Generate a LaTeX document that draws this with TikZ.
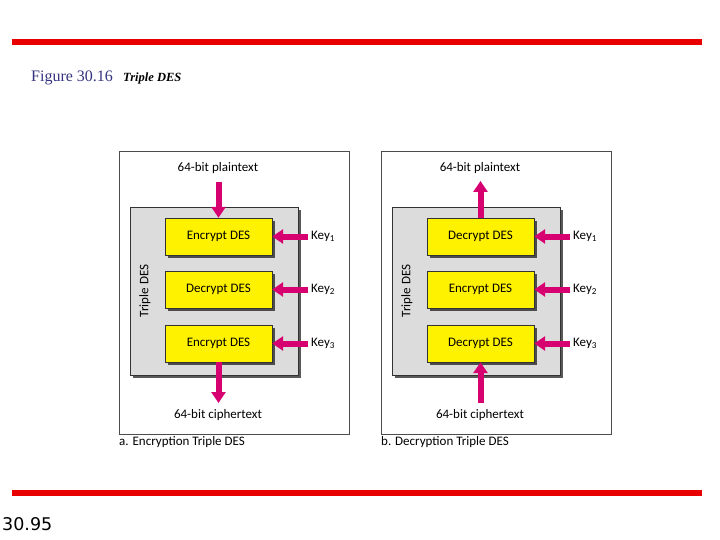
\documentclass[tikz,border=0pt]{standalone}
\usepackage{fontspec}
\setmainfont{Liberation Serif}
\newfontfamily\diafont{Carlito}
\newfontfamily\numfont{DejaVu Sans}
\usetikzlibrary{arrows.meta,shadows}
\definecolor{redline}{RGB}{232,0,0}
\definecolor{titleblue}{RGB}{51,51,128}
\definecolor{mag}{RGB}{214,0,112}
\definecolor{boxgray}{RGB}{220,220,220}
\tikzset{
  panel/.style={draw=black!70, line width=0.6pt},
  tdes/.style={draw=black!80, line width=0.5pt, fill=boxgray, minimum width=168pt, minimum height=168pt,
     drop shadow={shadow xshift=3pt, shadow yshift=-3pt, fill=black!65, opacity=1}},
  desbox/.style={draw=black!80, line width=0.4pt, fill=yellow, minimum width=107pt, minimum height=37pt,
     font=\diafont\fontsize{13}{13}\selectfont,
     drop shadow={shadow xshift=3pt, shadow yshift=-3pt, fill=black!70, opacity=1}},
  lbl/.style={font=\diafont\fontsize{13}{13}\selectfont, inner sep=0pt},
  fat/.style={draw=mag, line width=6pt, -{Triangle[width=14pt,length=11pt]}},
  redbar/.style={draw=redline, line width=6pt},
}
\begin{document}
\begin{tikzpicture}[x=1pt,y=-1pt]
\useasboundingbox (0,0) rectangle (720,540);
% header / footer
\coordinate (tl) at (12,42); \coordinate (tr) at (702,42);
\draw[redbar] (tl) -- (tr);
\coordinate (bl) at (12,493); \coordinate (br) at (702,493);
\draw[redbar] (bl) -- (br);
\node[anchor=base west, inner sep=0pt, text=titleblue, font=\fontsize{16}{17}\selectfont] (fig) at (31,82) {Figure 30.16};
\node[anchor=base west, inner sep=0pt, font=\bfseries\itshape\fontsize{12.5}{13}\selectfont] (figt) at (123,82) {Triple DES};
\node[anchor=west, inner sep=0pt, font=\numfont\fontsize{17.5}{18}\selectfont] (pg) at (2,524) {30.95};

% ---------- panel a ----------
\draw[panel] (119,151) rectangle (349,434);
\node[tdes] (ga) at (214,291) {};
\node[lbl, rotate=90] (tda) at (145,291) {Triple DES};
\node[desbox] (a1) at (218.5,236.5) {Encrypt DES};
\node[desbox] (a2) at (218.5,289.5) {Decrypt DES};
\node[desbox] (a3) at (218.5,343.5) {Encrypt DES};
\node[lbl] (apt) at (218,168) {64-bit plaintext};
\node[lbl] (act) at (218,415) {64-bit ciphertext};
\node[lbl, anchor=west] (ak1) at (311,236.5) {Key\textsubscript{1}};
\node[lbl, anchor=west] (ak2) at (311,289.5) {Key\textsubscript{2}};
\node[lbl, anchor=west] (ak3) at (311,343.5) {Key\textsubscript{3}};
\coordinate (apin) at (218.5,182);
\coordinate (apout) at (218.5,403);
\draw[fat] (apin) -- (a1.north);
\draw[fat] (a3.south) -- (apout);
\draw[fat] ([xshift=-3pt]ak1.west) -- (a1.east);
\draw[fat] ([xshift=-3pt]ak2.west) -- (a2.east);
\draw[fat] ([xshift=-3pt]ak3.west) -- (a3.east);
\node[lbl, anchor=west] (capa) at (119,442) {a. Encryption Triple DES};

% ---------- panel b ----------
\draw[panel] (381,151) rectangle (611,434);
\node[tdes] (gb) at (476,291) {};
\node[lbl, rotate=90] (tdb) at (407,291) {Triple DES};
\node[desbox] (b1) at (480.5,236.5) {Decrypt DES};
\node[desbox] (b2) at (480.5,289.5) {Encrypt DES};
\node[desbox] (b3) at (480.5,343.5) {Decrypt DES};
\node[lbl] (bpt) at (480,168) {64-bit plaintext};
\node[lbl] (bct) at (480,415) {64-bit ciphertext};
\node[lbl, anchor=west] (bk1) at (573,236.5) {Key\textsubscript{1}};
\node[lbl, anchor=west] (bk2) at (573,289.5) {Key\textsubscript{2}};
\node[lbl, anchor=west] (bk3) at (573,343.5) {Key\textsubscript{3}};
\coordinate (bpout) at (480.5,181);
\coordinate (bpin) at (480.5,403);
\draw[fat] (b1.north) -- (bpout);
\draw[fat] (bpin) -- (b3.south);
\draw[fat] ([xshift=-3pt]bk1.west) -- (b1.east);
\draw[fat] ([xshift=-3pt]bk2.west) -- (b2.east);
\draw[fat] ([xshift=-3pt]bk3.west) -- (b3.east);
\node[lbl, anchor=west] (capb) at (381,442) {b. Decryption Triple DES};
\end{tikzpicture}
\end{document}
